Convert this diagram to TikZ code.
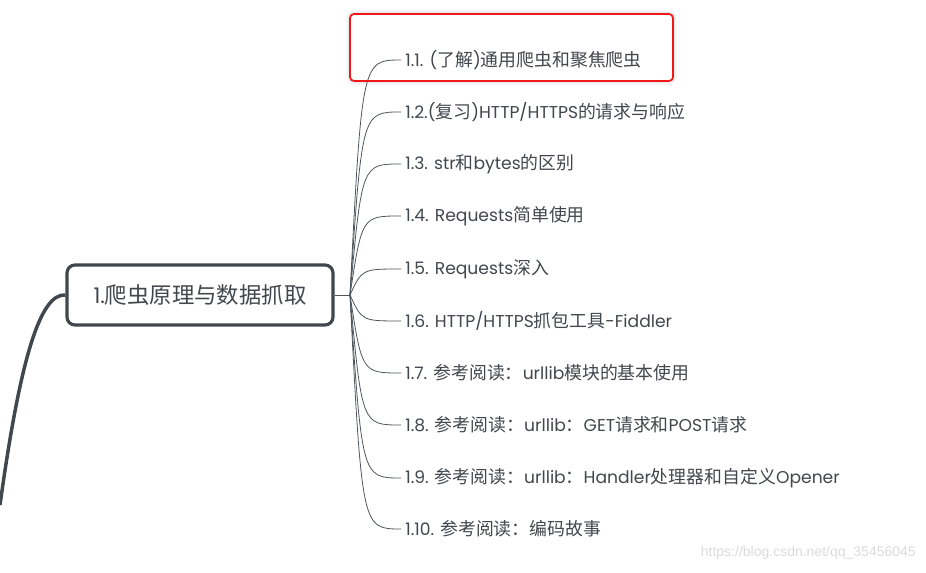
\documentclass[tikz,border=0pt]{standalone}
\usepackage{fontspec}
\setmainfont{Noto Sans CJK SC}
\newfontfamily\latfont[Scale=0.96]{Poppins}
\newfontfamily\markfont{Liberation Sans}
\newcommand\lat[1]{{\latfont #1}}
\usetikzlibrary{shadows.blur}
\definecolor{inkgray}{HTML}{41474D}
\definecolor{linegray}{HTML}{50565C}
\definecolor{boxred}{HTML}{F01818}
\tikzset{
  rootbox/.style={draw=inkgray, line width=2.4pt, rounded corners=6pt, fill=white,
    minimum width=199.5pt, minimum height=45pt, text=inkgray,
    font=\fontsize{16.8}{20}\selectfont},
  leaf/.style={anchor=west, inner sep=3pt, text=inkgray,
    font=\fontsize{13.4}{16}\selectfont},
  branch/.style={draw=linegray, line width=0.6pt},
  trunk/.style={draw=inkgray, line width=2.6pt}
}
\begin{document}
\begin{tikzpicture}[x=0.75pt, y=-0.75pt]
                \useasboundingbox (0,0) rectangle (926,573);
                \clip (0,0) rectangle (926,573);

                % Marking box around 1.1
                \draw [boxred, line width=1.3pt, rounded corners=3pt, fill=white,
                  blur shadow={shadow xshift=0pt, shadow yshift=0pt, shadow blur radius=3pt, shadow opacity=30}]
                  (350,14) rectangle (673,81);

                % Drawing root node
                \node [rootbox] (root) at (200,295) {\lat{1.}爬虫原理与数据抓取};

                % Drawing trunk to the parent
                \coordinate (up) at (0,505);
                \draw [trunk] (root.west) .. controls (40,293) and (20,360) .. (up);

                % Drawing hub
                \coordinate (hub) at (350,295);
                \draw [branch] (root.east) -- (hub);

                % Drawing leaves
                \node [leaf] (c1) at (401,60) {\lat{1.1. (}了解\lat{)}通用爬虫和聚焦爬虫};
                \node [leaf] (c2) at (401,112) {\lat{1.2.(}复习\lat{)HTTP/HTTPS}的请求与响应};
                \node [leaf] (c3) at (401,164) {\lat{1.3. str}和\lat{bytes}的区别};
                \node [leaf] (c4) at (401,216) {\lat{1.4. Requests}简单使用};
                \node [leaf] (c5) at (401,269) {\lat{1.5. Requests}深入};
                \node [leaf] (c6) at (401,321) {\lat{1.6. HTTP/HTTPS}抓包工具\lat{-Fiddler}};
                \node [leaf] (c7) at (401,373) {\lat{1.7. }参考阅读：\lat{urllib}模块的基本使用};
                \node [leaf] (c8) at (401,425) {\lat{1.8. }参考阅读：\lat{urllib}：\lat{GET}请求和\lat{POST}请求};
                \node [leaf] (c9) at (401,478) {\lat{1.9. }参考阅读：\lat{urllib}：\lat{Handler}处理器和自定义\lat{Opener}};
                \node [leaf] (c10) at (401,529) {\lat{1.10. }参考阅读：编码故事};

                % Drawing branches
                \draw [branch] (hub) .. controls (362,60) .. (c1.west);
                \draw [branch] (hub) .. controls (362,112) .. (c2.west);
                \draw [branch] (hub) .. controls (362,164) .. (c3.west);
                \draw [branch] (hub) .. controls (362,216) .. (c4.west);
                \draw [branch] (hub) .. controls (362,269) .. (c5.west);
                \draw [branch] (hub) .. controls (362,321) .. (c6.west);
                \draw [branch] (hub) .. controls (362,373) .. (c7.west);
                \draw [branch] (hub) .. controls (362,425) .. (c8.west);
                \draw [branch] (hub) .. controls (362,478) .. (c9.west);
                \draw [branch] (hub) .. controls (362,529) .. (c10.west);

                % Marking watermark
                \node [anchor=east, text=black!14, font=\markfont\fontsize{10.5}{12}\selectfont, inner sep=0pt]
                  (mark) at (916,553) {https://blog.csdn.net/qq\_35456045};
\end{tikzpicture}
\end{document}
